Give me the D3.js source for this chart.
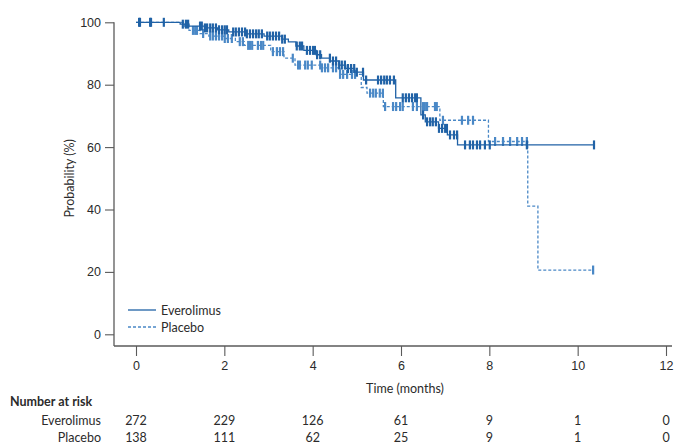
<!DOCTYPE html>
<html>
<head>
<meta charset="utf-8">
<script src="https://cdn.jsdelivr.net/npm/d3@7"></script>
<style>
  html, body { margin: 0; padding: 0; background: #fff; }
  svg { display: block; font-family: Lato, "Open Sans", sans-serif; }
</style>
</head>
<body>
<svg id="chart" width="680" height="443"></svg>
<script>
// Kaplan-Meier step points: [time (months), probability (%)]
const everolimusSteps = [
  [0, 100], [1.0, 99.4], [1.2, 98.8], [1.55, 98.2], [1.85, 97.6], [2.1, 96.9],
  [2.5, 96.3], [2.9, 95.6], [3.3, 94.6], [3.45, 93.7], [3.62, 92.4], [3.8, 91.0],
  [4.08, 89.6], [4.2, 88.5], [4.4, 87.6], [4.6, 86.3], [4.75, 85.2], [4.95, 84.0],
  [5.15, 81.5], [5.88, 75.8], [6.45, 70.3], [6.55, 68.1], [6.85, 66.0], [7.05, 63.9],
  [7.28, 60.7]
];
const everolimusEnd = 10.37;

const placeboSteps = [
  [0, 100], [1.1, 98.6], [1.2, 97.4], [1.45, 96.4], [1.65, 95.6], [2.0, 94.8],
  [2.25, 93.8], [2.45, 92.6], [3.05, 90.6], [3.35, 88.5], [3.6, 86.3], [4.2, 85.4],
  [4.62, 83.3], [5.1, 79.1], [5.23, 77.3], [5.6, 73.0], [6.88, 68.6], [7.98, 61.8],
  [8.87, 41.1], [9.1, 20.6]
];
const placeboEnd = 10.35;

// Censoring times (months)
const everolimusCensored = [
  0.07, 0.09, 0.32, 0.34, 0.63, 1.06, 1.13, 1.18, 1.45, 1.49, 1.56, 1.61, 1.68, 1.74,
  1.81, 1.88, 1.95, 2.01, 2.06, 2.20, 2.26, 2.33, 2.40, 2.47, 2.51, 2.58, 2.65, 2.72,
  2.78, 2.85, 2.97, 3.03, 3.10, 3.17, 3.24, 3.31, 3.37, 3.64, 3.71, 3.76, 3.87, 3.94,
  4.01, 4.05, 4.10, 4.17, 4.39, 4.46, 4.53, 4.60, 4.66, 4.73, 4.80, 4.87, 4.94, 5.00,
  5.14, 5.21, 5.48, 5.55, 5.62, 5.68, 5.75, 5.84, 6.04, 6.11, 6.18, 6.25, 6.32, 6.36,
  6.50, 6.59, 6.66, 6.72, 6.79, 6.86, 6.93, 7.00, 7.04, 7.11, 7.20, 7.27, 7.45, 7.56,
  7.63, 7.72, 7.79, 7.90, 8.01, 8.85, 10.37
];
const placeboCensored = [
  1.29, 1.34, 1.38, 1.52, 1.68, 1.74, 1.81, 1.88, 1.95, 2.01, 2.08, 2.17, 2.35, 2.42,
  2.54, 2.58, 2.63, 2.76, 2.83, 2.88, 3.10, 3.19, 3.26, 3.33, 3.55, 3.67, 3.71, 3.83,
  3.89, 3.98, 4.17, 4.21, 4.28, 4.35, 4.46, 4.53, 4.62, 4.69, 4.78, 4.89, 4.96, 5.30,
  5.37, 5.43, 5.52, 5.59, 5.64, 5.82, 5.89, 5.98, 6.04, 6.27, 6.36, 6.50, 6.54, 6.59,
  6.77, 6.81, 6.95, 7.38, 7.52, 7.63, 8.13, 8.31, 8.47, 8.63, 8.74, 8.85, 10.35
];

// Axis ticks
const xTicks = [0, 2, 4, 6, 8, 10, 12];
const yTicks = [0, 20, 40, 60, 80, 100];

// Number at risk at each x tick
const riskGroups = ["Everolimus", "Placebo"];
const riskEverolimus = [272, 229, 126, 61, 9, 1, 0];
const riskPlacebo = [138, 111, 62, 25, 9, 1, 0];

const solidColor = "#2062a6";
const dashColor = "#4a88c6";
const axisColor = "#5a5a5a";
const textColor = "#2b2b2b";
const fontSize = 12.5;

const svg = d3.select("#chart");
const x = d3.scaleLinear().domain([0, 12]).range([136, 666]);
const y = d3.scaleLinear().domain([0, 100]).range([334.3, 22.3]);

// Axes
const axisLeftX = 114, axisBottomY = 346;
svg.append("line")
  .attr("x1", axisLeftX).attr("x2", axisLeftX)
  .attr("y1", y(100)).attr("y2", axisBottomY)
  .attr("stroke", axisColor).attr("stroke-width", 1.3);
svg.append("line")
  .attr("x1", axisLeftX).attr("x2", 672)
  .attr("y1", axisBottomY).attr("y2", axisBottomY)
  .attr("stroke", axisColor).attr("stroke-width", 1.3);

const gx = svg.append("g")
  .attr("transform", `translate(0,${axisBottomY})`)
  .call(d3.axisBottom(x).tickValues(xTicks).tickSize(10).tickSizeOuter(0).tickPadding(5));
gx.select(".domain").remove();
gx.selectAll(".tick line").attr("stroke", axisColor).attr("stroke-width", 1.1);
gx.selectAll(".tick text").attr("fill", textColor).attr("font-size", fontSize).attr("font-family", null);

const gy = svg.append("g")
  .attr("transform", `translate(${axisLeftX},0)`)
  .call(d3.axisLeft(y).tickValues(yTicks).tickSize(9).tickSizeOuter(0).tickPadding(4));
gy.select(".domain").remove();
gy.selectAll(".tick line").attr("stroke", axisColor).attr("stroke-width", 1.1);
gy.selectAll(".tick text").attr("fill", textColor).attr("font-size", fontSize).attr("font-family", null);

svg.append("text")
  .attr("transform", `translate(74,${(y(100) + y(0)) / 2}) rotate(-90)`)
  .attr("text-anchor", "middle")
  .attr("font-size", fontSize).attr("fill", textColor)
  .text("Probability (%)");

svg.append("text")
  .attr("x", 405).attr("y", 393)
  .attr("text-anchor", "middle")
  .attr("font-size", fontSize).attr("fill", textColor)
  .text("Time (months)");

// Curves
const stepLine = d3.line()
  .x(d => x(d[0])).y(d => y(d[1]))
  .curve(d3.curveStepAfter);

function withEnd(steps, end) {
  return steps.concat([[end, steps[steps.length - 1][1]]]);
}
function valueAt(steps, t) {
  const i = d3.bisector(d => d[0]).right(steps, t) - 1;
  return steps[Math.max(0, i)][1];
}

function drawArm(steps, end, censored, color, dash) {
  const g = svg.append("g");
  g.append("path")
    .datum(withEnd(steps, end))
    .attr("d", stepLine)
    .attr("fill", "none")
    .attr("stroke", color)
    .attr("stroke-width", 1.3)
    .attr("stroke-dasharray", dash);
  g.selectAll("line.cens")
    .data(censored)
    .join("line")
    .attr("class", "cens")
    .attr("x1", d => x(d)).attr("x2", d => x(d))
    .attr("y1", d => y(valueAt(steps, d)) - 4.5)
    .attr("y2", d => y(valueAt(steps, d)) + 4.5)
    .attr("stroke", color)
    .attr("stroke-width", 2.2);
}

drawArm(placeboSteps, placeboEnd, placeboCensored, dashColor, "3,2");
drawArm(everolimusSteps, everolimusEnd, everolimusCensored, solidColor, null);

// Legend
const legend = [
  { label: "Everolimus", color: solidColor, dash: null, yy: 310 },
  { label: "Placebo", color: dashColor, dash: "3,2", yy: 327 }
];
const lg = svg.append("g");
lg.selectAll("line")
  .data(legend).join("line")
  .attr("x1", 128).attr("x2", 156)
  .attr("y1", d => d.yy).attr("y2", d => d.yy)
  .attr("stroke", d => d.color).attr("stroke-width", 1.3)
  .attr("stroke-dasharray", d => d.dash);
lg.selectAll("text")
  .data(legend).join("text")
  .attr("x", 161).attr("y", d => d.yy + 4.5)
  .attr("font-size", fontSize).attr("fill", textColor)
  .text(d => d.label);

// Number at risk table
svg.append("text")
  .attr("x", 10).attr("y", 406)
  .attr("font-size", fontSize).attr("font-weight", "bold").attr("fill", textColor)
  .text("Number at risk");

const riskRows = [riskEverolimus, riskPlacebo];
riskRows.forEach((row, r) => {
  const yy = 425 + r * 16.5;
  svg.append("text")
    .attr("x", 101).attr("y", yy)
    .attr("text-anchor", "end")
    .attr("font-size", fontSize).attr("fill", textColor)
    .text(riskGroups[r]);
  svg.append("g").selectAll("text")
    .data(row).join("text")
    .attr("x", (d, i) => x(xTicks[i]))
    .attr("y", yy)
    .attr("text-anchor", "middle")
    .attr("font-size", fontSize).attr("fill", textColor)
    .text(d => d);
});
</script>
</body>
</html>
